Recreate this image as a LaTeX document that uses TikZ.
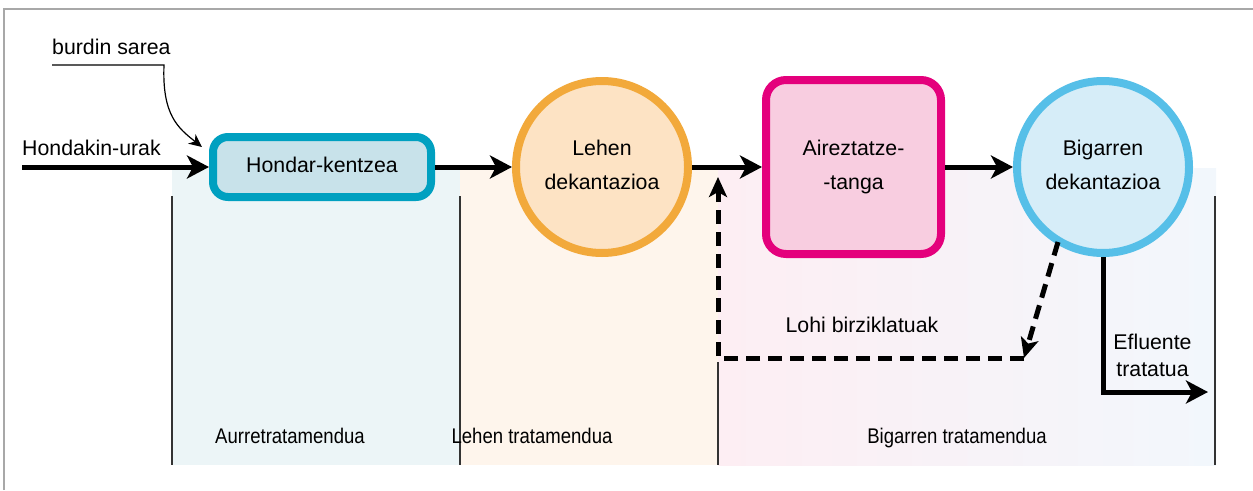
\documentclass[tikz,border=0pt]{standalone}
\usepackage{fontspec}
\setmainfont{Liberation Sans}
\newfontfamily\condfont[FakeStretch=0.875]{Liberation Sans}
\usetikzlibrary{arrows.meta}
\definecolor{frameC}{HTML}{A8A8A8}
\definecolor{sepC}{HTML}{333333}
\definecolor{zoneA}{HTML}{ECF5F7}
\definecolor{zoneB}{HTML}{FEF5EC}
\definecolor{zoneCl}{HTML}{FDEEF3}
\definecolor{zoneCr}{HTML}{F2F7FC}
\definecolor{tealB}{HTML}{00A0C0}
\definecolor{tealF}{HTML}{C8E2EA}
\definecolor{orB}{HTML}{F2A93B}
\definecolor{orF}{HTML}{FDE3C4}
\definecolor{pkB}{HTML}{E4007C}
\definecolor{pkF}{HTML}{F8CDE0}
\definecolor{blB}{HTML}{56BFE8}
\definecolor{blF}{HTML}{D6EDF8}
\begin{document}
\begin{tikzpicture}[x=1pt,y=-1pt,
  txt/.style={font=\fontsize{21.3}{27}\selectfont, inner sep=0pt},
  lbl/.style={font=\condfont\fontsize{21.2}{24}\selectfont, inner sep=0pt},
  flow/.style={line width=5pt, line join=miter, -{Stealth[length=22pt,width=23pt,inset=6pt]}},
  dflow/.style={line width=5pt, line join=miter, dash pattern=on 14pt off 8pt, -{Stealth[length=20pt,width=18pt,inset=5pt]}},
  proc/.style={line width=8pt, outer sep=4pt, inner sep=0pt, align=center,
    font=\fontsize{21.3}{33.5}\selectfont, text depth=4.5pt},
  sepline/.style={line width=1.5pt, draw=sepC},
]
\useasboundingbox (0,0) rectangle (1253,490);
% frame
\draw[frameC, line width=2pt] (4,490) -- (4,9) -- (1253,9);
% zones
\fill[zoneA] (172,168) rectangle (460,465);
\fill[zoneB] (460,168) rectangle (718,465);
\shade[left color=zoneCl, right color=zoneCr] (718,168) rectangle (1216,465);
\draw[sepline] (172,196) -- (172,465);
\draw[sepline] (460,196) -- (460,465);
\draw[sepline] (718,362) -- (718,465);
\draw[sepline] (1215,196) -- (1215,465);
% zone labels
\node[lbl, anchor=base] (zl1) at (290,443) {Aurretratamendua};
\node[lbl, anchor=base] (zl2) at (532,443) {Lehen tratamendua};
\node[lbl, anchor=base] (zl3) at (957,443) {Bigarren tratamendua};
% process nodes
\node[proc, draw=tealB, fill=tealF, rounded corners=15pt, minimum width=218pt, minimum height=60pt] (hk) at (322,167) {Hondar-kentzea};
\node[proc, draw=orB, fill=orF, circle, minimum size=172pt] (c1) at (602,167) {Lehen\\dekantazioa};
\node[proc, draw=pkB, fill=pkF, rounded corners=20pt, minimum width=175pt, minimum height=174pt] (at) at (853.5,167) {Aireztatze-\\-tanga};
\node[proc, draw=blB, fill=blF, circle, minimum size=172pt] (c2) at (1103,167) {Bigarren\\dekantazioa};
% input
\coordinate (in) at (22,167);
\node[txt, anchor=base west] (inl) at (22,155) {Hondakin-urak};
\draw[flow] (in) -- (hk.west);
% burdin sarea
\node[txt, anchor=base west] (bs) at (52,54.5) {burdin sarea};
\coordinate (bsa) at (52,65);
\coordinate (bsb) at (164,65);
\coordinate (bst) at (202,147);
\draw[line width=1.2pt, -{Stealth[length=13pt,width=12pt,inset=4pt]}] (bsa) -- (bsb) .. controls (162,115) and (178,128) .. (bst);
% main flow
\draw[flow] (hk.east) -- (c1.west);
\draw[flow] (c1.east) -- (at.west);
\draw[flow] (at.east) -- (c2.west);
% recycled sludge
\coordinate (d1) at (1058,242);
\coordinate (dc) at (1024,358);
\coordinate (ret) at (718,177);
\draw[dflow] (d1) -- (dc);
\draw[dflow] (dc) -| (ret);
\node[txt, anchor=base] (lohi) at (862,332.7) {Lohi birziklatuak};
% effluent
\coordinate (eff) at (1208,392);
\draw[flow] (c2.south) |- (eff);
\node[txt, anchor=base, align=center] (efl) at (1152.5,376.7) {Efluente\\tratatua};
\end{tikzpicture}
\end{document}
